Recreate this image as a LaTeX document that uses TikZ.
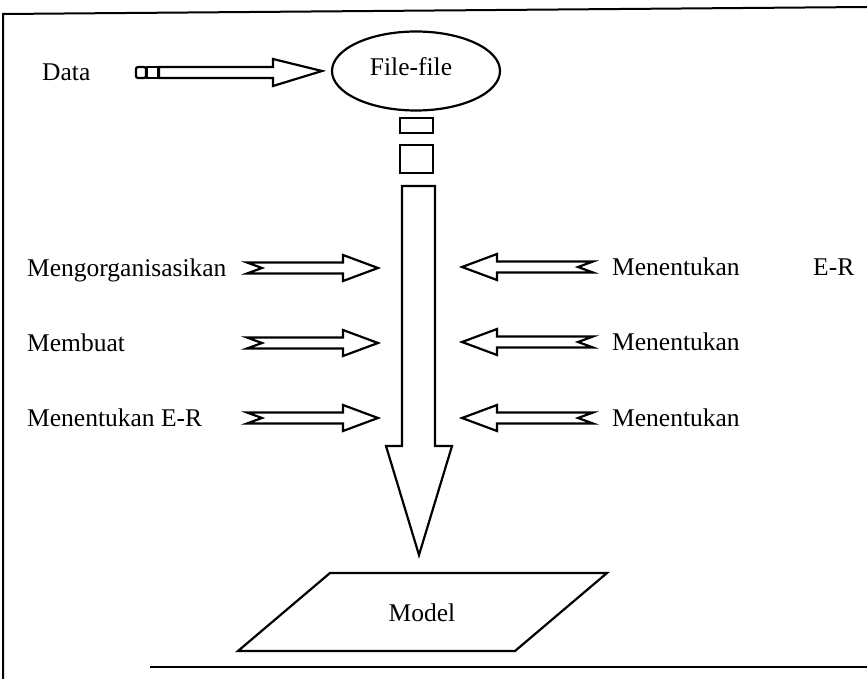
\documentclass[tikz,border=0pt]{standalone}
\usepackage{fontspec}
\setmainfont{Liberation Serif}
\usetikzlibrary{shapes.geometric}
\begin{document}
\begin{tikzpicture}[x=1pt,y=-1pt,line join=miter,
  outline/.style={draw=black,line width=2.2pt},
  lbl/.style={font=\fontsize{25.5}{28}\selectfont,inner sep=0pt,anchor=base west},
  ctr/.style={font=\fontsize{25.5}{28}\selectfont,inner sep=0pt},
  % block arrow with a notched tail, pointing right from its origin
  notcharrow/.pic={\draw[outline] (0,-5.5) -- (96,-5.5) -- (96,-13) -- (131,0) -- (96,13)
      -- (96,5.5) -- (0,5.5) -- (15,0) -- cycle;}]
\useasboundingbox (0,0) rectangle (867,679);

% open frame
\draw[line width=2pt] (867,7) -- (3,14) -- (3,679);
\draw[line width=2pt] (150,667) -- (867,667);

% data source and file store
\node[lbl] (data) at (42,81) {Data};
\draw[outline,rounded corners=2pt] (136,67) rectangle (146,78);
\draw[outline] (147,67) rectangle (158,78);
\node[ellipse,outline,minimum width=168pt,minimum height=79pt,inner sep=0pt]
  (files) at (416,71) {};
\node[ctr] (filestext) at (411,67) {File-file};
\coordinate (datatail) at (159,72.5);
\draw[outline] (datatail) ++(0,-5.5) -- ++(114,0) -- ++(0,-8) -- (files.west -| 322,72.5)
  -- (273,86) -- (273,78) -- (159,78) -- cycle;

% dotted descent into the main shaft
\draw[outline] (400,118) rectangle (433,133);
\draw[outline] (400,145) rectangle (433,173);
\coordinate (tip) at (419,555);
\draw[outline] (402,186) -- (435,186) -- (435,446) -- (452,446) -- (tip)
  -- (386,446) -- (402,446) -- cycle;

% activities feeding the shaft from the left
\node[lbl] (l1) at (27,276) {Mengorganisasikan};
\node[lbl] (l2) at (27,351) {Membuat};
\node[lbl] (l3) at (27,426) {Menentukan E-R};
\pic at (247,268) {notcharrow};
\pic at (247,343) {notcharrow};
\pic at (247,418) {notcharrow};

% activities feeding the shaft from the right
\pic[xscale=-1] at (593,267) {notcharrow};
\pic[xscale=-1] at (593,342) {notcharrow};
\pic[xscale=-1] at (593,418) {notcharrow};
\node[lbl] (r1) at (612,275) {Menentukan};
\node[lbl] (r1b) at (813,275) {E-R};
\node[lbl] (r2) at (612,350) {Menentukan};
\node[lbl] (r3) at (612,426) {Menentukan};

% resulting model
\draw[outline] (330,573) -- (607,573) -- (515,651) -- (238,651) -- cycle;
\node[ctr] (model) at (422,613) {Model};
\end{tikzpicture}
\end{document}
